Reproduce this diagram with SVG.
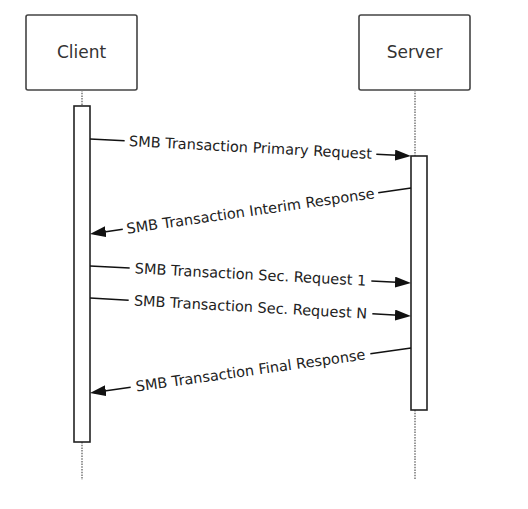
<svg xmlns="http://www.w3.org/2000/svg" width="528" height="509" viewBox="0 0 528 509">
<style>
.box{fill:#fff;stroke:#444;stroke-width:1.6}
.act{fill:#fff;stroke:#222;stroke-width:1.6}
.life{stroke:#777;stroke-width:1.5;stroke-dasharray:1.5 1.2;fill:none}
.name{font-family:"DejaVu Sans",Verdana,sans-serif;font-size:17px;fill:#333;text-anchor:middle}
.lbl{font-family:"DejaVu Sans",Verdana,sans-serif;font-size:14.5px;fill:#222;text-anchor:middle}
.msg{stroke:#111;stroke-width:1.5;fill:none}
</style>
<defs>
<marker id="ah" markerUnits="userSpaceOnUse" markerWidth="16" markerHeight="11" refX="12" refY="5.5" orient="auto">
<path d="M0,0 L16,5.5 L0,11 z" fill="#111"/>
</marker>
</defs>
<g id="client">
<rect class="box" x="26" y="15" width="111" height="75" rx="2"/>
<text class="name" x="81.5" y="58">Client</text>
<line class="life" x1="82" y1="90" x2="82" y2="106"/>
<line class="life" x1="82" y1="442" x2="82" y2="480"/>
<rect class="act" x="74" y="106" width="16" height="336"/>
</g>
<g id="server">
<rect class="box" x="359" y="15" width="111" height="75" rx="2"/>
<text class="name" x="414.5" y="58">Server</text>
<line class="life" x1="415" y1="90" x2="415" y2="156"/>
<line class="life" x1="415" y1="410" x2="415" y2="480"/>
<rect class="act" x="411" y="156" width="16" height="254"/>
</g>
<g id="connectors">
<g transform="translate(250.5,147.5) rotate(3.03)">
<line class="msg" x1="-160.7" y1="0" x2="-126" y2="0"/>
<line class="msg" x1="126" y1="0" x2="156.7" y2="0" marker-end="url(#ah)"/>
<text class="lbl" x="0" y="5">SMB Transaction Primary Request</text>
</g>
<g transform="translate(250.5,211) rotate(-8.155)">
<line class="msg" x1="162.2" y1="0" x2="129" y2="0"/>
<line class="msg" x1="-129" y1="0" x2="-158.2" y2="0" marker-end="url(#ah)"/>
<text class="lbl" x="0" y="5">SMB Transaction Interim Response</text>
</g>
<g transform="translate(250.5,274.5) rotate(3.03)">
<line class="msg" x1="-160.7" y1="0" x2="-121" y2="0"/>
<line class="msg" x1="121" y1="0" x2="156.7" y2="0" marker-end="url(#ah)"/>
<text class="lbl" x="0" y="5">SMB Transaction Sec. Request 1</text>
</g>
<g transform="translate(250.5,307) rotate(3.21)">
<line class="msg" x1="-160.7" y1="0" x2="-122" y2="0"/>
<line class="msg" x1="122" y1="0" x2="156.7" y2="0" marker-end="url(#ah)"/>
<text class="lbl" x="0" y="5">SMB Transaction Sec. Request N</text>
</g>
<g transform="translate(250.5,370.5) rotate(-7.98)">
<line class="msg" x1="162.1" y1="0" x2="121" y2="0"/>
<line class="msg" x1="-121" y1="0" x2="-158.1" y2="0" marker-end="url(#ah)"/>
<text class="lbl" x="0" y="5">SMB Transaction Final Response</text>
</g>
</g>
</svg>
